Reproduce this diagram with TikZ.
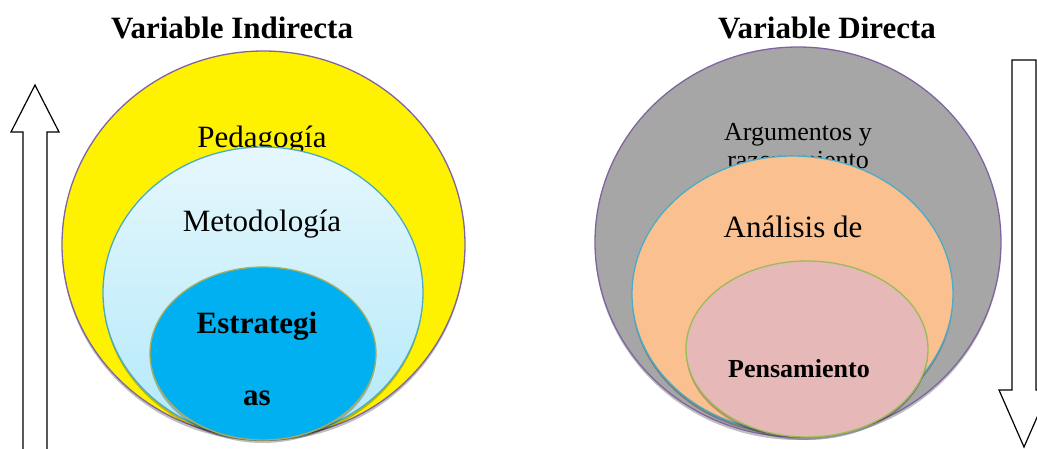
\documentclass[tikz,border=0pt]{standalone}
\usepackage{fontspec}
\setmainfont{Liberation Serif}
\usetikzlibrary{shapes.geometric,shadows}
\definecolor{purp}{HTML}{8064A2}
\definecolor{cyanb}{HTML}{4BACC6}
\definecolor{olv}{HTML}{9BBB59}
\definecolor{khk}{HTML}{A5AE5C}
\definecolor{skyb}{HTML}{00B0F0}
\definecolor{gry}{HTML}{A6A6A6}
\definecolor{orng}{HTML}{FAC090}
\definecolor{pnk}{HTML}{E6B9B8}
\tikzset{
  ell/.style={ellipse, inner sep=0pt, line width=1.3pt,
    drop shadow={shadow xshift=0pt, shadow yshift=-3pt, opacity=0.25, fill=black}},
  lbl/.style={inner sep=0pt, anchor=base, font=\fontsize{31}{36}\selectfont},
  blbl/.style={inner sep=0pt, anchor=base, font=\fontsize{31}{36}\selectfont\bfseries},
  arrowshape/.style={draw=black, fill=white, line width=1.2pt, line join=miter}
}
\begin{document}
\begin{tikzpicture}[x=1pt,y=-1pt]
\useasboundingbox (0,0) rectangle (1037,448);
\clip (0,0) rectangle (1037,448);
% titles
\node[blbl] (t1) at (232,38) {Variable Indirecta};
\node[blbl] (t2) at (827,38) {Variable Directa};
% up arrow
\draw[arrowshape] (23,460) -- (23,132) -- (11,132) -- (35,85) -- (59,132) -- (47,132) -- (47,460);
% down arrow
\draw[arrowshape] (1012,60) -- (1036,60) -- (1036,390) -- (1049,390) -- (1024,447) -- (999,390) -- (1012,390) -- cycle;
% left set
\node[ell, draw=purp, fill=yellow, minimum width=403, minimum height=387] (ped) at (263.5,244.5) {};
\node[lbl] (pedt) at (262,147) {Pedagogía};
\node[ell, draw=cyanb, top color={rgb,255:red,230;green,247;blue,253}, bottom color={rgb,255:red,178;green,233;blue,249}, minimum width=320, minimum height=291] (met) at (263,292.5) {};
\node[lbl] (mett) at (262,231) {Metodología};
\node[ell, draw=khk, fill=skyb, minimum width=226, minimum height=173] (est) at (263,353.5) {};
\node[blbl] (estt1) at (257,333) {Estrategi};
\node[blbl] (estt2) at (257,405) {as};
% right set
\node[ell, draw=purp, fill=gry, minimum width=406, minimum height=390] (arg) at (798,242) {};
\node[lbl, font=\fontsize{26}{28}\selectfont] (argt) at (798,140) {Argumentos y};
\node[lbl, font=\fontsize{26}{28}\selectfont] (argt2) at (798,168) {razonamiento};
\node[ell, draw=cyanb, fill=orng, minimum width=321, minimum height=276] (ana) at (792.5,294) {};
\node[lbl] (anat) at (793,237) {Análisis de};
\node[ell, draw=olv, fill=pnk, minimum width=242, minimum height=176] (pen) at (807,349) {};
\node[blbl, font=\fontsize{26}{30}\selectfont\bfseries] (pent) at (799,377) {Pensamiento};
\end{tikzpicture}
\end{document}
